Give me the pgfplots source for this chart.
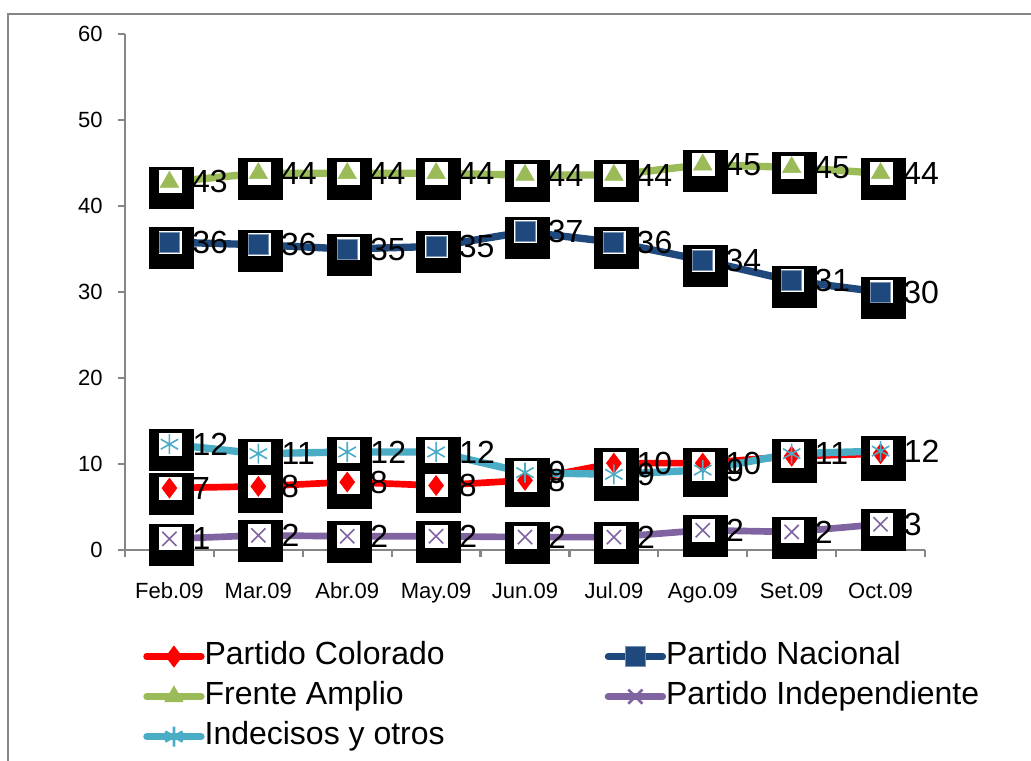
\documentclass[border=0pt]{standalone}
\usepackage{fontspec}
\setmainfont{Liberation Sans}
\usepackage{pgfplots}
\usepackage{pgfplotstable}
\pgfplotsset{compat=1.18}
\definecolor{pcol}{HTML}{FF0000}
\definecolor{pnac}{HTML}{1F497D}
\definecolor{pfa}{HTML}{9BBB59}
\definecolor{pind}{HTML}{8064A2}
\definecolor{pund}{HTML}{4BACC6}
\definecolor{axgray}{HTML}{868686}

\pgfdeclareplotmark{blackbox}{\pgfpathrectangle{\pgfpoint{-15pt}{-20.25pt}}{\pgfpoint{33.75pt}{31.5pt}}\pgfusepathqfill}
\pgfdeclareplotmark{whitebox}{\pgfpathrectangle{\pgfpoint{-8pt}{-8.6pt}}{\pgfpoint{17.25pt}{17.25pt}}\pgfusepathqfill}

\pgfplotstableread{
x y lab
0 7.2 7
1 7.4 8
2 7.9 8
3 7.5 8
4 8.1 8
5 10.1 10
6 10.1 10
7 10.9 {}
8 11.2 {}
}\colorado
\pgfplotstableread{
x y lab
0 35.8 36
1 35.5 36
2 35.0 35
3 35.3 35
4 37.0 37
5 35.8 36
6 33.7 34
7 31.3 31
8 30.0 30
}\nacional
\pgfplotstableread{
x y lab
0 42.8 43
1 43.8 44
2 43.8 44
3 43.8 44
4 43.6 44
5 43.6 44
6 44.8 45
7 44.5 45
8 43.8 44
}\frente
\pgfplotstableread{
x y lab
0 1.3 1
1 1.7 2
2 1.6 2
3 1.6 2
4 1.5 2
5 1.5 2
6 2.3 2
7 2.1 2
8 3.0 3
}\indep
\pgfplotstableread{
x y lab
0 12.3 12
1 11.2 11
2 11.4 12
3 11.4 12
4 9.0 9
5 8.8 9
6 9.3 9
7 11.2 11
8 11.5 12
}\indec

\begin{document}
\begin{tikzpicture}
\useasboundingbox (0,0) rectangle (773.25pt,-570pt);
\draw[axgray, line width=2pt] (6pt,-800pt) -- (6pt,-10.5pt) -- (900pt,-10.5pt);
\begin{axis}[
  at={(93.75pt,-412.5pt)}, anchor=south west,
  scale only axis, width=600pt, height=387pt,
  xmin=-0.5, xmax=8.5, ymin=0, ymax=60,
  clip=false,
  axis x line=bottom, axis y line=left,
  axis line style={-, axgray, line width=1.6pt},
  tick style={axgray, line width=1.6pt},
  tick align=outside, major tick length=5.25pt,
  xtick={-0.5,0.5,1.5,2.5,3.5,4.5,5.5,6.5,7.5,8.5},
  xticklabels={},
  extra x ticks={0,1,2,3,4,5,6,7,8},
  extra x tick labels={Feb.09,Mar.09,Abr.09,May.09,Jun.09,Jul.09,Ago.09,Set.09,Oct.09},
  extra x tick style={major tick length=0pt},
  ytick={0,10,20,30,40,50,60},
  /pgf/number format/assume math mode=true,
  tick label style={font=\fontsize{16.5pt}{19pt}\selectfont, black},
  xticklabel style={yshift=-21pt},
  yticklabel style={xshift=-8pt},
  legend columns=2,
  legend cell align=left,
  legend style={at={(rel axis cs:0.0225,-0.175)}, anchor=north west, draw=none, fill=none,
    font=\fontsize{24pt}{28pt}\selectfont, inner sep=0pt, row sep=6pt,
    nodes={text height=18pt, text depth=6pt, inner xsep=0pt, inner ysep=0pt},
    /tikz/every even column/.append style={column sep=120pt}},
  nodes near coords style={anchor=west, xshift=13.5pt, text=black, font=\fontsize{24pt}{28pt}\selectfont},
]
% black boxes
\addplot[only marks, mark=blackbox, black, forget plot] table[x=x,y=y] {\colorado};
\addplot[only marks, mark=blackbox, black, forget plot] table[x=x,y=y] {\nacional};
\addplot[only marks, mark=blackbox, black, forget plot] table[x=x,y=y] {\frente};
\addplot[only marks, mark=blackbox, black, forget plot] table[x=x,y=y] {\indep};
\addplot[only marks, mark=blackbox, black, forget plot] table[x=x,y=y] {\indec};
% lines
\addplot[pcol, line width=5pt, mark=none, forget plot] table[x=x,y=y] {\colorado};
\addplot[pnac, line width=5.5pt, mark=none, forget plot] table[x=x,y=y] {\nacional};
\addplot[pfa, line width=5.5pt, mark=none, forget plot] table[x=x,y=y] {\frente};
\addplot[pind, line width=5pt, mark=none, forget plot] table[x=x,y=y] {\indep};
\addplot[pund, line width=5.5pt, mark=none, forget plot] table[x=x,y=y] {\indec};
% white boxes
\addplot[only marks, mark=whitebox, white, forget plot] table[x=x,y=y] {\colorado};
\addplot[only marks, mark=whitebox, white, forget plot] table[x=x,y=y] {\nacional};
\addplot[only marks, mark=whitebox, white, forget plot] table[x=x,y=y] {\frente};
\addplot[only marks, mark=whitebox, white, forget plot] table[x=x,y=y] {\indep};
\addplot[only marks, mark=whitebox, white, forget plot] table[x=x,y=y] {\indec};
% markers + labels
\addplot[only marks, pcol, mark=diamond*, mark size=7.5pt, nodes near coords, point meta=explicit symbolic,
  legend image code/.code={\draw[pcol, line width=5pt, line cap=round] (0pt,0pt) -- (41pt,0pt); \draw[pcol, fill=pcol, mark=diamond*, mark size=8pt] plot coordinates {(20.5pt,0pt)};}]
  table[x=x,y=y,meta=lab] {\colorado};
\addlegendentry{Partido Colorado}
\addplot[only marks, pnac, mark=square*, mark size=7.5pt, mark options={draw=pnac!60, line width=0.6pt, fill=pnac}, nodes near coords, point meta=explicit symbolic,
  legend image code/.code={\draw[pnac, line width=5pt, line cap=round] (0pt,0pt) -- (41pt,0pt); \draw[pnac, fill=pnac, mark=square*, mark size=7.5pt] plot coordinates {(20.5pt,0pt)};}]
  table[x=x,y=y,meta=lab] {\nacional};
\addlegendentry{Partido Nacional}
\addplot[only marks, pfa, mark=triangle*, mark size=8pt, nodes near coords, point meta=explicit symbolic,
  legend image code/.code={\draw[pfa, line width=5pt, line cap=round] (0pt,0pt) -- (41pt,0pt); \draw[pfa, fill=pfa, mark=triangle*, mark size=8pt] plot coordinates {(20.5pt,0pt)};}]
  table[x=x,y=y,meta=lab] {\frente};
\addlegendentry{Frente Amplio}
\addplot[only marks, pind, mark=x, mark size=7.5pt, mark options={line width=1.2pt}, nodes near coords, point meta=explicit symbolic,
  legend image code/.code={\draw[pind, line width=5pt, line cap=round] (0pt,0pt) -- (41pt,0pt); \draw[pind, mark=x, mark size=7.5pt, mark options={line width=2pt}] plot coordinates {(20.5pt,0pt)};}]
  table[x=x,y=y,meta=lab] {\indep};
\addlegendentry{Partido Independiente}
\addplot[only marks, pund, mark=asterisk, mark size=7.5pt, mark options={line width=1.2pt}, nodes near coords, point meta=explicit symbolic,
  legend image code/.code={\draw[pund, line width=5pt, line cap=round] (0pt,0pt) -- (41pt,0pt); \draw[pund, mark=asterisk, mark size=7.5pt, mark options={line width=2pt}] plot coordinates {(20.5pt,0pt)};}]
  table[x=x,y=y,meta=lab] {\indec};
\addlegendentry{Indecisos y otros}
\end{axis}
\end{tikzpicture}
\end{document}
